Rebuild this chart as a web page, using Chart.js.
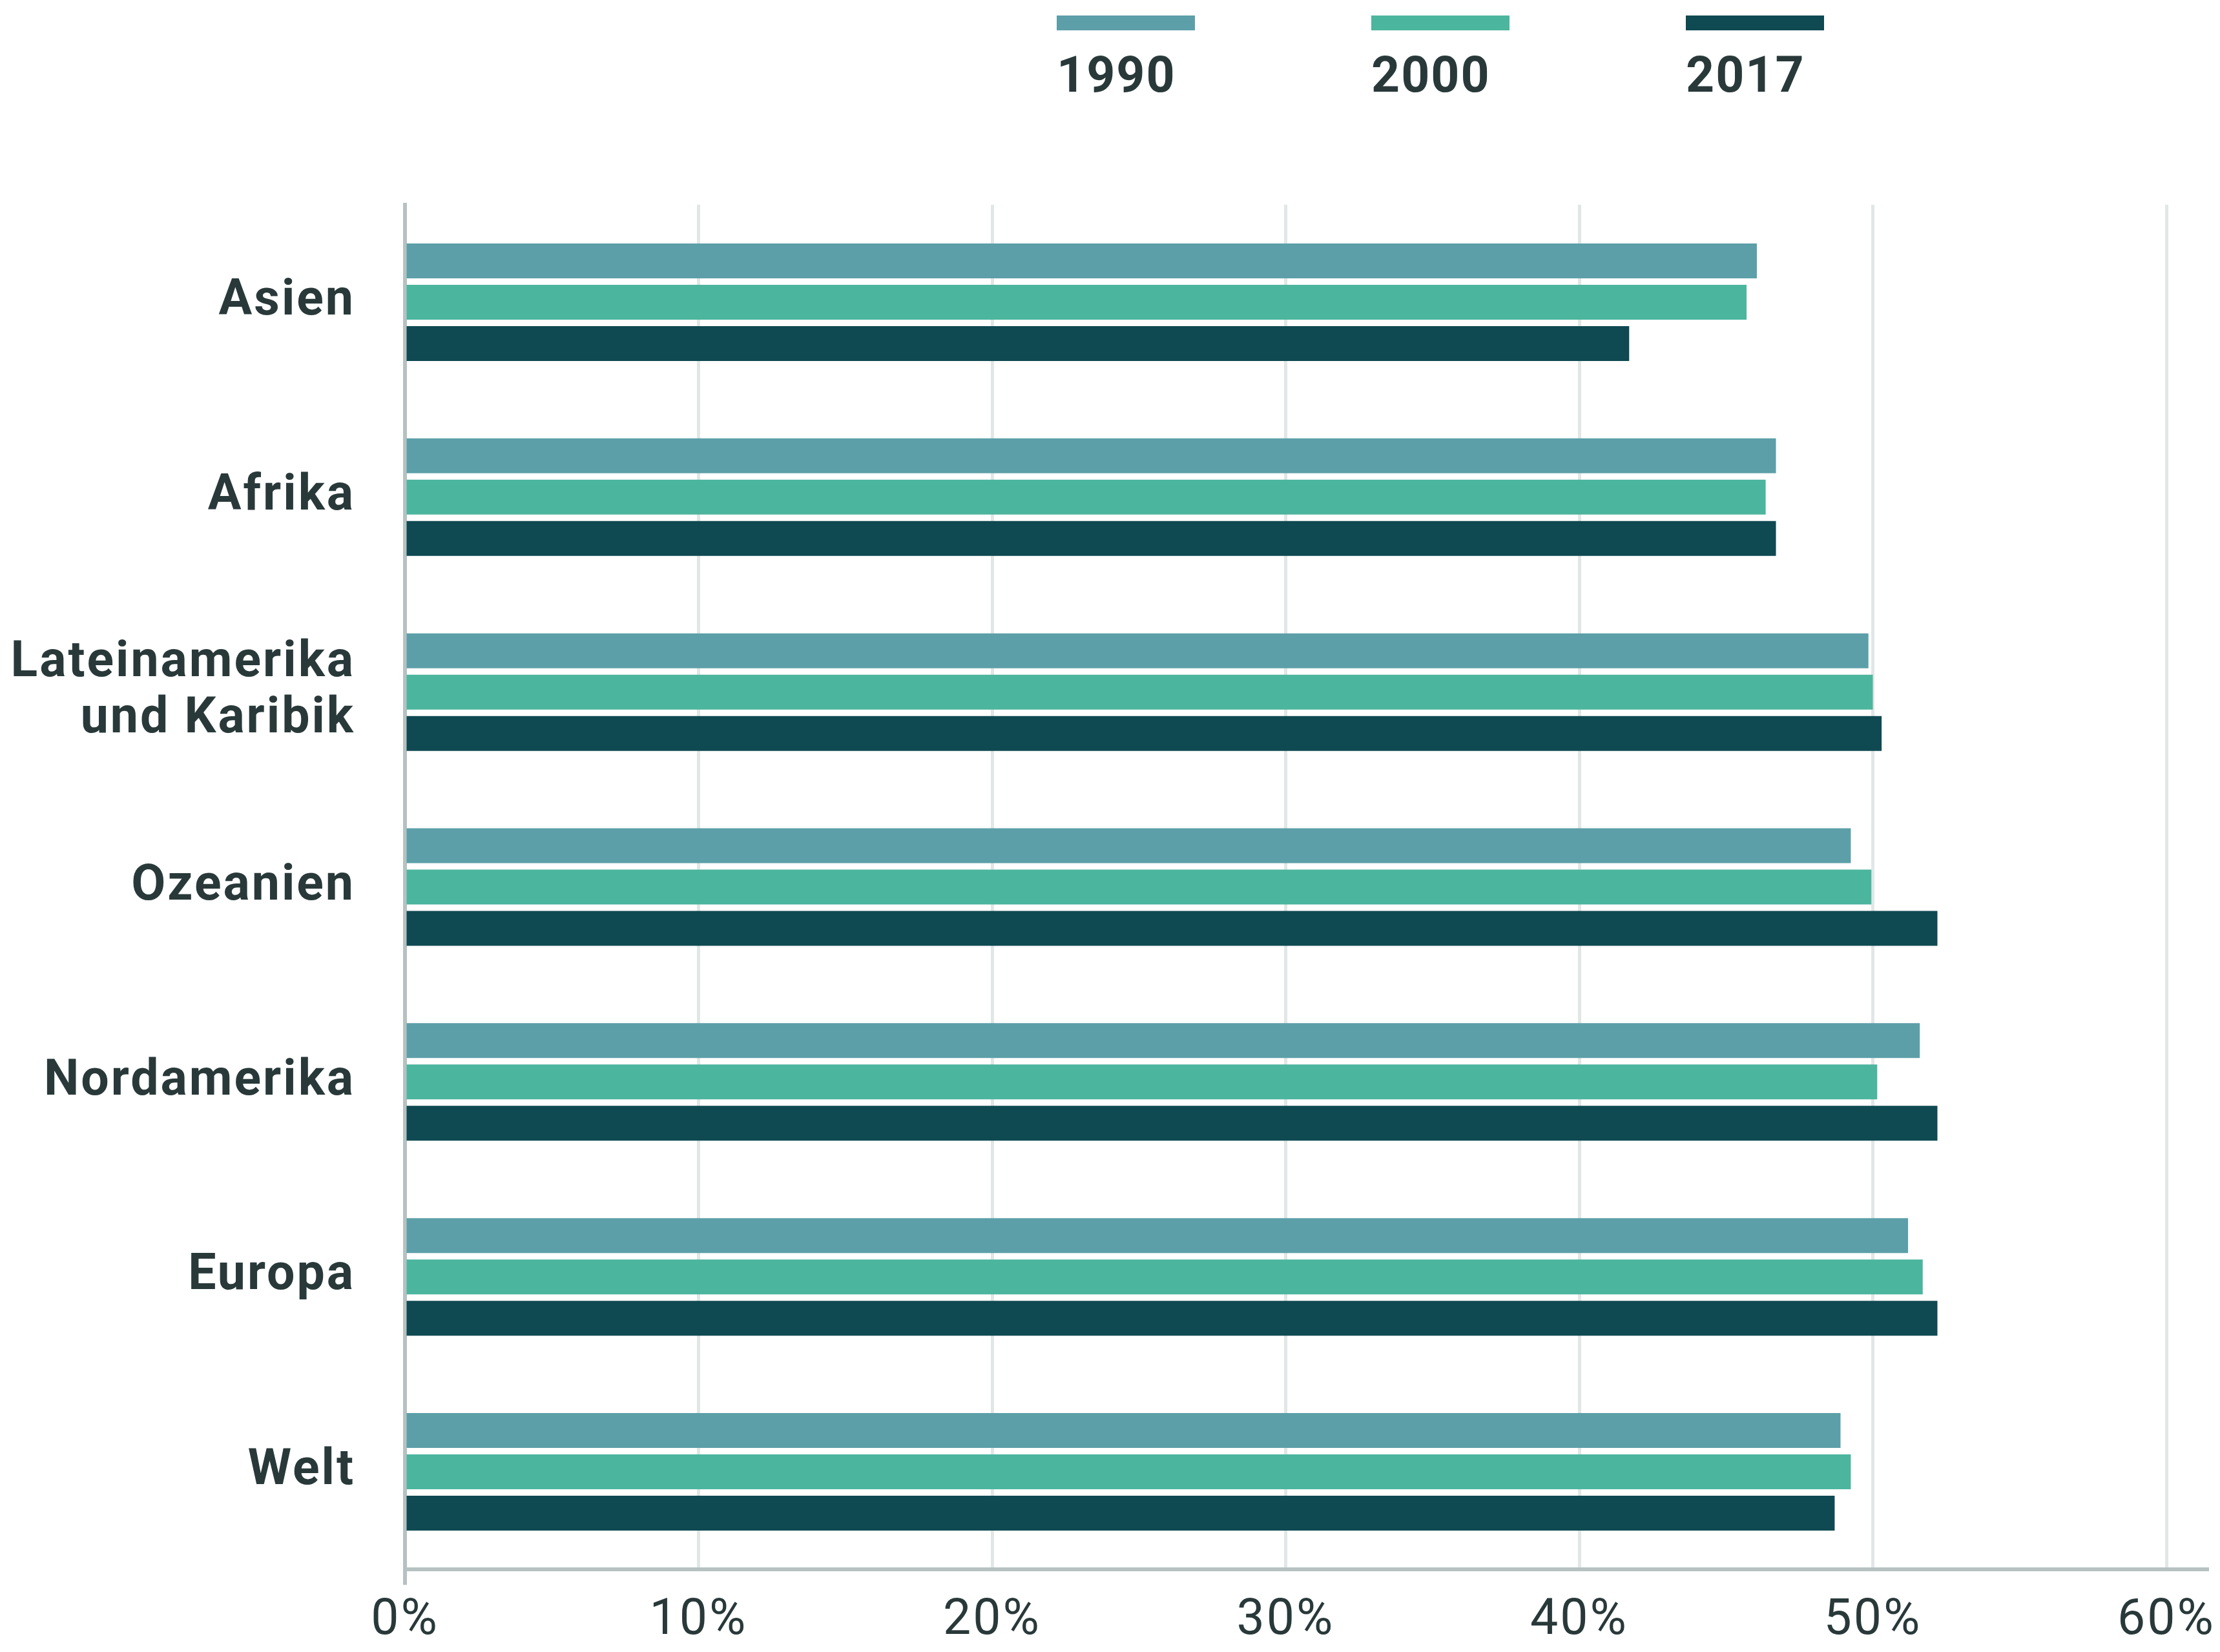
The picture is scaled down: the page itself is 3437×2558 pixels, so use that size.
<!DOCTYPE html>
<html>
<head>
<meta charset="utf-8">
<script src="https://cdn.jsdelivr.net/npm/chart.js@4/dist/chart.umd.min.js"></script>
<style>
    html, body { margin: 0; padding: 0; background: #ffffff; }
    canvas { display: block; }
</style>
</head>
<body>
<canvas id="chart" width="3437" height="2558" style="width:3437px;height:2558px"></canvas>
<script>
// Data (share in %)
const categories = ['Asien', 'Afrika', ['Lateinamerika', 'und Karibik'], 'Ozeanien', 'Nordamerika', 'Europa', 'Welt'];
const years = ['1990', '2000', '2017'];
const values1990 = [46.05, 46.7, 49.85, 49.25, 51.6, 51.2, 48.9];
const values2000 = [45.7, 46.35, 50.0, 49.95, 50.15, 51.7, 49.25];
const values2017 = [41.7, 46.7, 50.3, 52.2, 52.2, 52.2, 48.7];
const xTickValues = [0, 10, 20, 30, 40, 50, 60];

const colors = ['#5c9fa8', '#4cb59e', '#0f4951'];
const textColor = '#29393a';
const gridColor = '#e1e7e7';
const axisColor = '#b6c2c2';

// Slightly spaced lettering like the original
const spacingPlugin = {
    id: 'letterSpacing',
    beforeLayout(chart) { chart.ctx.letterSpacing = '3px'; },
    beforeDraw(chart) { chart.ctx.letterSpacing = '3px'; }
};

// Legend: colour bar above the year label
const legendPlugin = {
    id: 'topLegend',
    afterDraw(chart) {
        const ctx = chart.ctx;
        ctx.save();
        chart.data.datasets.forEach((ds, i) => {
            const x = 1636 + i * 487;
            ctx.fillStyle = ds.backgroundColor;
            ctx.fillRect(x, 24, 214, 23);
            ctx.fillStyle = textColor;
            ctx.font = 'bold 77px Roboto';
            ctx.letterSpacing = '2px';
            ctx.textAlign = 'left';
            ctx.textBaseline = 'alphabetic';
            ctx.fillText(ds.label, x, 142);
        });
        ctx.restore();
    }
};

// Bottom axis line runs past the last gridline
const axisLinePlugin = {
    id: 'axisLine',
    afterDraw(chart) {
        const ctx = chart.ctx;
        const area = chart.chartArea;
        ctx.save();
        ctx.strokeStyle = axisColor;
        ctx.lineWidth = 6;
        ctx.beginPath();
        ctx.moveTo(area.left - 3, area.bottom);
        ctx.lineTo(3420, area.bottom);
        ctx.moveTo(area.left, area.bottom);
        ctx.lineTo(area.left, area.bottom + 24);
        ctx.stroke();
        ctx.restore();
    }
};

const series = [values1990, values2000, values2017];

new Chart(document.getElementById('chart').getContext('2d'), {
    type: 'bar',
    data: {
        labels: categories,
        datasets: years.map((year, i) => ({
            label: year,
            data: series[i],
            backgroundColor: colors[i],
            borderWidth: 0,
            categoryPercentage: 0.636,
            barPercentage: 0.844
        }))
    },
    options: {
        indexAxis: 'y',
        responsive: false,
        devicePixelRatio: 1,
        animation: false,
        layout: { padding: { top: 317, right: 83, bottom: 0, left: 0 } },
        plugins: {
            legend: { display: false },
            tooltip: { enabled: false }
        },
        scales: {
            x: {
                min: 0,
                max: 60,
                afterBuildTicks: scale => {
                    scale.ticks = xTickValues.map(v => ({ value: v }));
                },
                afterFit: scale => {
                    scale.height = 128;
                    scale.paddingLeft = 0;
                    scale.paddingRight = 0;
                },
                grid: { color: gridColor, lineWidth: 5, drawTicks: false, tickLength: 0 },
                border: { display: false },
                ticks: {
                    color: textColor,
                    font: { family: 'Roboto', size: 77 },
                    padding: 35,
                    maxRotation: 0,
                    callback: v => v + '%'
                }
            },
            y: {
                afterFit: scale => { scale.width = 627; },
                grid: { display: false, drawTicks: false, tickLength: 0 },
                border: { display: true, color: axisColor, width: 6 },
                ticks: {
                    color: textColor,
                    font: { family: 'Roboto', size: 77, weight: 'bold', lineHeight: 1.13 },
                    padding: 77
                }
            }
        }
    },
    plugins: [spacingPlugin, legendPlugin, axisLinePlugin]
});
</script>
</body>
</html>
